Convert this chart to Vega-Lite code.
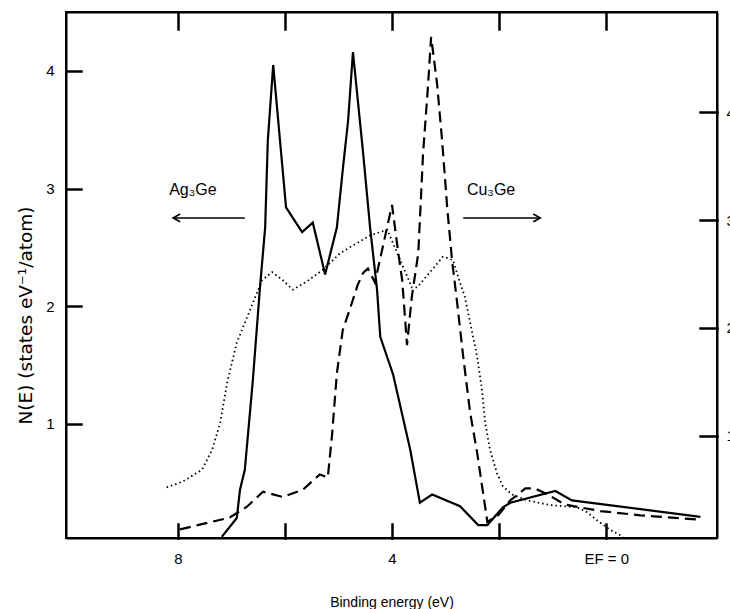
{
  "$schema": "https://vega.github.io/schema/vega-lite/v6.json",
  "width": 651,
  "height": 526,
  "autosize": {"type": "none"},
  "padding": {"left": 66, "top": 12, "right": 13, "bottom": 71},
  "background": "white",
  "config": {
    "view": {"stroke": "black", "strokeWidth": 2},
    "font": "Liberation Sans",
    "axis": {
      "grid": false,
      "domainColor": "black",
      "domainWidth": 2,
      "tickColor": "black",
      "tickWidth": 2.5,
      "tickCap": "square",
      "labelColor": "black",
      "titleColor": "black",
      "labelFont": "Liberation Sans",
      "titleFont": "Liberation Sans"
    }
  },
  "datasets": {
    "solid": [
      {"E": 7.18, "N": 0.04}, {"E": 6.90, "N": 0.20}, {"E": 6.84, "N": 0.44}, {"E": 6.75, "N": 0.61},
      {"E": 6.60, "N": 1.37}, {"E": 6.47, "N": 2.14}, {"E": 6.37, "N": 2.67}, {"E": 6.32, "N": 3.41},
      {"E": 6.22, "N": 4.05}, {"E": 5.98, "N": 2.84}, {"E": 5.68, "N": 2.63}, {"E": 5.48, "N": 2.71},
      {"E": 5.25, "N": 2.27}, {"E": 5.03, "N": 2.67}, {"E": 4.92, "N": 3.16}, {"E": 4.82, "N": 3.58},
      {"E": 4.73, "N": 4.16}, {"E": 4.54, "N": 3.30}, {"E": 4.41, "N": 2.67}, {"E": 4.28, "N": 2.14},
      {"E": 4.22, "N": 1.74}, {"E": 3.98, "N": 1.42}, {"E": 3.66, "N": 0.78}, {"E": 3.48, "N": 0.33},
      {"E": 3.25, "N": 0.40}, {"E": 2.73, "N": 0.30}, {"E": 2.39, "N": 0.14}, {"E": 2.22, "N": 0.14},
      {"E": 1.93, "N": 0.29}, {"E": 1.79, "N": 0.33}, {"E": 0.95, "N": 0.43}, {"E": 0.64, "N": 0.35},
      {"E": -1.76, "N": 0.21}
    ],
    "dotted": [
      {"E": 8.21, "N": 0.46}, {"E": 7.91, "N": 0.51}, {"E": 7.55, "N": 0.61}, {"E": 7.36, "N": 0.78},
      {"E": 7.21, "N": 1.01}, {"E": 7.08, "N": 1.35}, {"E": 6.90, "N": 1.69}, {"E": 6.65, "N": 1.97},
      {"E": 6.50, "N": 2.14}, {"E": 6.43, "N": 2.22}, {"E": 6.24, "N": 2.29}, {"E": 6.04, "N": 2.22},
      {"E": 5.85, "N": 2.14}, {"E": 5.59, "N": 2.21}, {"E": 5.29, "N": 2.31}, {"E": 4.97, "N": 2.45},
      {"E": 4.79, "N": 2.50}, {"E": 4.41, "N": 2.60}, {"E": 4.09, "N": 2.65}, {"E": 3.79, "N": 2.33},
      {"E": 3.63, "N": 2.16}, {"E": 3.53, "N": 2.16}, {"E": 3.05, "N": 2.42}, {"E": 2.97, "N": 2.41},
      {"E": 2.86, "N": 2.39}, {"E": 2.73, "N": 2.20}, {"E": 2.64, "N": 2.08}, {"E": 2.54, "N": 1.86},
      {"E": 2.41, "N": 1.57}, {"E": 2.32, "N": 1.29}, {"E": 2.26, "N": 1.01}, {"E": 2.17, "N": 0.78},
      {"E": 2.04, "N": 0.58}, {"E": 1.93, "N": 0.47}, {"E": 1.76, "N": 0.40}, {"E": 1.48, "N": 0.35},
      {"E": 1.05, "N": 0.31}, {"E": 0.54, "N": 0.29}, {"E": 0.36, "N": 0.25}, {"E": 0.17, "N": 0.18},
      {"E": -0.07, "N": 0.10}, {"E": -0.32, "N": 0.04}
    ],
    "dashed": [
      {"E": 7.96, "N": 0.13}, {"E": 7.03, "N": 0.24}, {"E": 6.71, "N": 0.34}, {"E": 6.41, "N": 0.48},
      {"E": 6.04, "N": 0.43}, {"E": 5.66, "N": 0.50}, {"E": 5.35, "N": 0.64}, {"E": 5.20, "N": 0.61},
      {"E": 5.12, "N": 1.01}, {"E": 5.03, "N": 1.58}, {"E": 4.92, "N": 1.98}, {"E": 4.79, "N": 2.17},
      {"E": 4.64, "N": 2.40}, {"E": 4.54, "N": 2.51}, {"E": 4.45, "N": 2.55}, {"E": 4.32, "N": 2.42},
      {"E": 4.00, "N": 3.14}, {"E": 3.89, "N": 2.72}, {"E": 3.81, "N": 2.44}, {"E": 3.72, "N": 1.84},
      {"E": 3.63, "N": 2.29}, {"E": 3.51, "N": 2.69}, {"E": 3.42, "N": 3.62}, {"E": 3.33, "N": 4.23},
      {"E": 3.27, "N": 4.70}, {"E": 3.16, "N": 4.27}, {"E": 3.07, "N": 3.77}, {"E": 2.97, "N": 3.12},
      {"E": 2.88, "N": 2.63}, {"E": 2.79, "N": 2.26}, {"E": 2.67, "N": 1.73}, {"E": 2.54, "N": 1.21},
      {"E": 2.41, "N": 0.84}, {"E": 2.30, "N": 0.47}, {"E": 2.22, "N": 0.20}, {"E": 2.02, "N": 0.26},
      {"E": 1.79, "N": 0.40}, {"E": 1.51, "N": 0.51}, {"E": 1.33, "N": 0.51}, {"E": 1.08, "N": 0.45},
      {"E": 0.77, "N": 0.36}, {"E": 0.11, "N": 0.30}, {"E": -0.64, "N": 0.26}, {"E": -1.76, "N": 0.22}
    ],
    "labels": [
      {"E": 7.72, "N": 2.99, "text": "Ag₃Ge"},
      {"E": 2.15, "N": 2.99, "text": "Cu₃Ge"}
    ],
    "arrows": [
      {"E": 8.09, "E2": 6.75, "N": 2.75, "dir": "left"},
      {"E": 1.23, "E2": 2.67, "N": 2.75, "dir": "right"}
    ]
  },
  "resolve": {"scale": {"y": "independent"}, "axis": {"x": "independent", "y": "independent"}},
  "layer": [
    {
      "data": {"name": "solid"},
      "mark": {"type": "line", "color": "black", "strokeWidth": 2.2},
      "encoding": {
        "x": {
          "field": "E", "type": "quantitative",
          "scale": {"domain": [-2.07, 10.09], "reverse": true, "nice": false, "zero": false},
          "axis": {
            "orient": "bottom", "values": [8, 6, 4, 2, 0], "tickSize": -14, "labelPadding": 27,
            "labelFontSize": 15,
            "labelExpr": "datum.value == 8 ? '8' : datum.value == 4 ? '4' : datum.value == 0 ? 'EF = 0' : ''",
            "title": "Binding energy (eV)", "titleFontSize": 14, "titleFontWeight": "normal",
            "titleY": 57, "titleBaseline": "top"
          }
        },
        "y": {
          "field": "N", "type": "quantitative",
          "scale": {"domain": [0.03, 4.5], "nice": false, "zero": false},
          "axis": {
            "orient": "left", "values": [1, 2, 3, 4], "tickSize": -15, "labelPadding": 27,
            "labelFontSize": 15,
            "title": "N(E)  (states eV⁻¹/atom)", "titleFont": "DejaVu Sans", "titleFontSize": 18.5, "titleFontWeight": "normal",
            "titleX": -31, "titleY": 303
          }
        }
      }
    },
    {
      "layer": [
        {
          "data": {"name": "dotted"},
          "mark": {"type": "line", "color": "black", "strokeWidth": 1.8, "strokeDash": [1.5, 3]},
          "encoding": {
            "x": {"field": "E", "type": "quantitative", "scale": {"domain": [-2.07, 10.09], "reverse": true, "nice": false, "zero": false}, "axis": null},
            "y": {"field": "N", "type": "quantitative", "scale": {"domain": [0.03, 4.5], "nice": false, "zero": false}, "axis": null}
          }
        },
        {
          "data": {"name": "labels"},
          "mark": {"type": "text", "color": "black", "fontSize": 16, "align": "center", "baseline": "middle", "font": "Liberation Sans"},
          "encoding": {
            "x": {"field": "E", "type": "quantitative", "scale": {"domain": [-2.07, 10.09], "reverse": true, "nice": false, "zero": false}, "axis": null},
            "y": {"field": "N", "type": "quantitative", "scale": {"domain": [0.03, 4.5], "nice": false, "zero": false}, "axis": null},
            "text": {"field": "text"}
          }
        },
        {
          "data": {"name": "arrows"},
          "mark": {"type": "rule", "color": "black", "strokeWidth": 1.6},
          "encoding": {
            "x": {"field": "E", "type": "quantitative", "scale": {"domain": [-2.07, 10.09], "reverse": true, "nice": false, "zero": false}, "axis": null},
            "x2": {"field": "E2"},
            "y": {"field": "N", "type": "quantitative", "scale": {"domain": [0.03, 4.5], "nice": false, "zero": false}, "axis": null}
          }
        },
        {
          "data": {"name": "arrows"},
          "mark": {"type": "point", "color": "black", "filled": false, "strokeWidth": 1.6, "size": 200, "opacity": 1},
          "encoding": {
            "x": {"field": "E", "type": "quantitative", "scale": {"domain": [-2.07, 10.09], "reverse": true, "nice": false, "zero": false}, "axis": null},
            "y": {"field": "N", "type": "quantitative", "scale": {"domain": [0.03, 4.5], "nice": false, "zero": false}, "axis": null},
            "shape": {
              "field": "dir", "type": "nominal",
              "scale": {"domain": ["left", "right"], "range": ["M1,-0.55L0,0L1,0.55", "M-1,-0.55L0,0L-1,0.55"]},
              "legend": null
            }
          }
        }
      ]
    },
    {
      "data": {"name": "dashed"},
      "mark": {"type": "line", "color": "black", "strokeWidth": 2.2, "strokeDash": [11, 6]},
      "encoding": {
        "x": {
          "field": "E", "type": "quantitative",
          "scale": {"domain": [-2.07, 10.09], "reverse": true, "nice": false, "zero": false},
          "axis": {"orient": "top", "values": [8, 6, 4, 2, 0], "tickSize": -17, "labels": false, "title": null}
        },
        "y": {
          "field": "N", "type": "quantitative",
          "scale": {"domain": [0.05, 4.93], "nice": false, "zero": false},
          "axis": {"orient": "right", "values": [1, 2, 3, 4], "tickSize": -17, "labelPadding": 26, "labelFontSize": 15, "title": null}
        }
      }
    }
  ]
}
